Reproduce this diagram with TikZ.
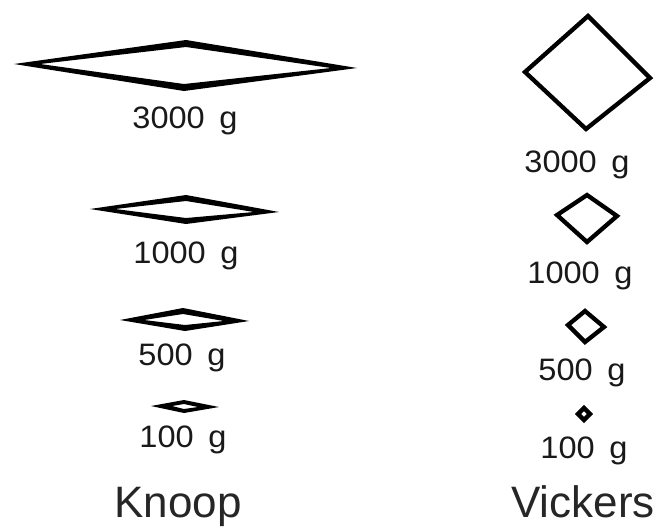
\documentclass[tikz,border=0pt]{standalone}
\usepackage{fontspec}
\setmainfont{Liberation Sans}
\newcommand{\gap}{\hspace{0.45em}}
\begin{document}
\begin{tikzpicture}[x=1pt,y=-1pt,
  indent/.style={fill=black,even odd rule,draw=none},
  vick/.style={draw=black,line width=4.3pt,line join=miter},
  lbl/.style={anchor=base,inner sep=0pt,font=\fontsize{31}{31}\selectfont,xscale=1.05,text=black!90},
  ttl/.style={anchor=base,inner sep=0pt,font=\fontsize{44}{44}\selectfont,text=black!85}]
\useasboundingbox (0,0) rectangle (658,531);
% Knoop
\path[indent] (14,64) -- (186,40) -- (357,68) -- (184,91) -- cycle
              (40,64) -- (186,47) -- (331,68) -- (184,84) -- cycle;
\path[indent] (90,209) -- (186,195) -- (279,212) -- (186,224) -- cycle
              (115,209) -- (186,201) -- (254,212) -- (186,218) -- cycle;
\path[indent] (120,320) -- (183,308) -- (249,321) -- (185,331) -- cycle
              (144,320) -- (183,314) -- (224,321) -- (185,325) -- cycle;
\path[indent] (151,406) -- (184,400) -- (219,407) -- (184,413) -- cycle
              (172,406) -- (184,404) -- (198,407) -- (184,409) -- cycle;
\node[lbl] (k3) at (185,128) {3000\gap g};
\node[lbl] (k2) at (186,263) {1000\gap g};
\node[lbl] (k1) at (182,365) {500\gap g};
\node[lbl] (k0) at (183,447) {100\gap g};
\node[ttl] (kt) at (178,517) {Knoop};
% Vickers
\draw[vick] (588,16) -- (650,78) -- (586,129) -- (525,72) -- cycle;
\draw[vick] (587,195) -- (617,216) -- (587,242) -- (557,215) -- cycle;
\draw[vick] (585,311) -- (604,327) -- (585,342) -- (568,325) -- cycle;
\draw[vick] (584,408) -- (590,414) -- (584,420) -- (578,414) -- cycle;
\node[lbl] (v3) at (577,172) {3000\gap g};
\node[lbl] (v2) at (580,283) {1000\gap g};
\node[lbl] (v1) at (582,380) {500\gap g};
\node[lbl] (v0) at (584,458) {100\gap g};
\node[ttl] (vt) at (583,517) {Vickers};
\end{tikzpicture}
\end{document}
